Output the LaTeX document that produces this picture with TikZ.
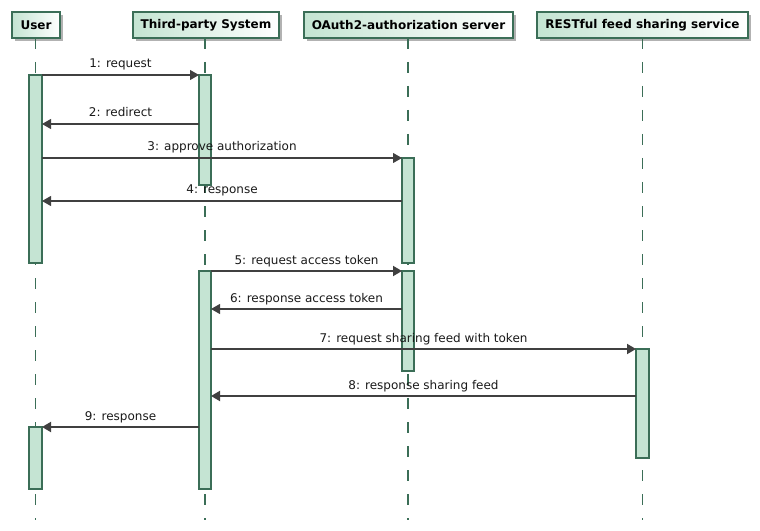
\documentclass[tikz,border=0pt]{standalone}
\usepackage{fontspec}
\setmainfont{DejaVu Sans}
\usetikzlibrary{arrows.meta,shadows}
\definecolor{barfill}{RGB}{197,228,211}
\definecolor{dkgreen}{RGB}{59,110,87}
\definecolor{arrowc}{RGB}{64,64,64}
\definecolor{hdrgreen}{RGB}{196,228,210}
\begin{document}
\begin{tikzpicture}[x=0.75pt,y=-0.75pt,
 header/.style={draw=dkgreen, line width=0.9pt, left color=hdrgreen, right color=white,
   font=\bfseries\fontsize{9}{11}\selectfont, minimum height=19.5pt, inner sep=0pt,
   drop shadow={shadow xshift=2.25pt, shadow yshift=-2.25pt, fill=black!30, opacity=1}},
 lifeline/.style={draw=dkgreen, line width=0.8pt, dash pattern=on 8.25pt off 9.75pt},
 lifelineb/.style={lifeline, line width=1.4pt},
 actbar/.style={draw=dkgreen, fill=barfill, line width=0.9pt},
 msg/.style={draw=arrowc, line width=0.8pt, -{Triangle[length=6.75pt,width=7.5pt]}},
 msgb/.style={msg, line width=1.4pt},
 lbl/.style={font=\fontsize{9}{11}\selectfont, anchor=base, inner sep=0pt, text=black!90, yshift=5.25pt}
]
\useasboundingbox (0,0) rectangle (760,531);

% headers
\node[header, minimum width=36pt]     (user)  at (36,25)    {User};
\node[header, minimum width=109.5pt]  (third) at (206,25)   {Third-party System};
\node[header, minimum width=156.75pt] (oauth) at (408.5,25) {OAuth2-authorization server};
\node[header, minimum width=158.25pt] (rest)  at (642.5,25) {RESTful feed sharing service};

% lifeline ends
\coordinate (userE)  at (35.5,520);
\coordinate (thirdE) at (205,520);
\coordinate (oauthE) at (408,520);
\coordinate (restE)  at (642.5,520);
\draw[lifeline]  (35.5,38) -- (userE);
\draw[lifeline]  (205,38) -- (thirdE);
\draw[lifeline]  (408,38) -- (oauthE);
\draw[lifelineb] (642.5,38) -- (restE);

% activation bars
\draw[actbar] (29,75) rectangle (42,263);
\draw[actbar] (29,427) rectangle (42,489);
\draw[actbar] (199,75) rectangle (211,185);
\draw[actbar] (199,271) rectangle (211,489);
\draw[actbar] (402,158) rectangle (414,263);
\draw[actbar] (402,271) rectangle (414,371);
\draw[actbar] (636,349) rectangle (649,458);

% message endpoints
\coordinate (m1a) at (42,75);   \coordinate (m1b) at (199,75);
\coordinate (m2a) at (199,124); \coordinate (m2b) at (42,124);
\coordinate (m3a) at (42,158);  \coordinate (m3b) at (402,158);
\coordinate (m4a) at (402,201); \coordinate (m4b) at (42,201);
\coordinate (m5a) at (211,271); \coordinate (m5b) at (402,271);
\coordinate (m6a) at (402,309); \coordinate (m6b) at (211,309);
\coordinate (m7a) at (211,349); \coordinate (m7b) at (636,349);
\coordinate (m8a) at (636,396); \coordinate (m8b) at (211,396);
\coordinate (m9a) at (199,427); \coordinate (m9b) at (42,427);

\draw[msg]  (m1a) -- node[lbl] (l1) {1: request} (m1b);
\draw[msg]  (m2a) -- node[lbl] (l2) {2: redirect} (m2b);
\draw[msg]  (m3a) -- node[lbl] (l3) {3: approve authorization} (m3b);
\draw[msg]  (m4a) -- node[lbl] (l4) {4: response} (m4b);
\draw[msgb] (m5a) -- node[lbl] (l5) {5: request access token} (m5b);
\draw[msg]  (m6a) -- node[lbl] (l6) {6: response access token} (m6b);
\draw[msgb] (m7a) -- node[lbl] (l7) {7: request sharing feed with token} (m7b);
\draw[msgb] (m8a) -- node[lbl] (l8) {8: response sharing feed} (m8b);
\draw[msgb] (m9a) -- node[lbl] (l9) {9: response} (m9b);
\end{tikzpicture}
\end{document}
